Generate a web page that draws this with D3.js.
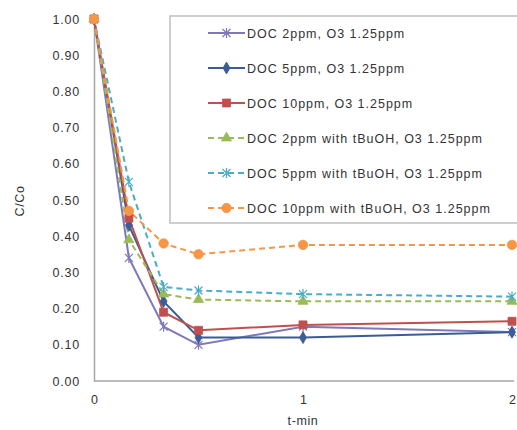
<!DOCTYPE html>
<html><head><meta charset="utf-8">
<script src="https://cdn.jsdelivr.net/npm/d3@7"></script>
<style>
body{margin:0;background:#fff;}
text{font-family:"Liberation Sans",Arial,sans-serif;fill:#333;}
</style></head>
<body><svg id="c" width="517" height="430"></svg>
<script>
const times = [0, 0.167, 0.333, 0.5, 1, 2];
const seriesNames = [
  "DOC 2ppm, O3 1.25ppm",
  "DOC 5ppm, O3 1.25ppm",
  "DOC 10ppm, O3 1.25ppm",
  "DOC 2ppm with tBuOH, O3 1.25ppm",
  "DOC 5ppm with tBuOH, O3 1.25ppm",
  "DOC 10ppm with tBuOH, O3 1.25ppm"
];
const doc2 = [1.00, 0.34, 0.15, 0.10, 0.15, 0.135];
const doc5 = [1.00, 0.43, 0.22, 0.12, 0.12, 0.135];
const doc10 = [1.00, 0.45, 0.19, 0.14, 0.155, 0.165];
const doc2t = [1.00, 0.39, 0.24, 0.225, 0.22, 0.22];
const doc5t = [1.00, 0.55, 0.26, 0.25, 0.24, 0.233];
const doc10t = [1.00, 0.47, 0.38, 0.35, 0.376, 0.376];
const yTicks = [0, 0.1, 0.2, 0.3, 0.4, 0.5, 0.6, 0.7, 0.8, 0.9, 1.0];
const xTicks = [0, 1, 2];

const colors = ["#7f78b9", "#3b5c96", "#c0504d", "#9bbb59", "#4bacc6", "#f79646"];
const markers = ["star", "diamond", "square", "triangle", "star", "circle"];
const dashed = [false, false, false, true, true, true];
const values = [doc2, doc5, doc10, doc2t, doc5t, doc10t];

const svg = d3.select("#c");
const x = d3.scaleLinear().domain([0, 2]).range([94, 512]);
const y = d3.scaleLinear().domain([0, 1]).range([381, 19]);

// axes
const ya = svg.append("g").attr("transform", "translate(94,0)")
  .call(d3.axisLeft(y).tickValues(yTicks).tickFormat(d3.format(".2f")).tickSize(0).tickPadding(14));
ya.select(".domain").attr("stroke", "#a6a6a6").attr("stroke-width", 1.5);
ya.selectAll("text").style("font-size", "12.5px").style("letter-spacing", "0.8px")
  .style("font-family", "'Liberation Sans',Arial,sans-serif").attr("fill", "#333");

const xa = svg.append("g").attr("transform", "translate(0,381)")
  .call(d3.axisBottom(x).tickValues(xTicks).tickFormat(d3.format("d")).tickSize(0).tickPadding(14));
xa.select(".domain").attr("stroke", "#a6a6a6").attr("stroke-width", 1.5).attr("d", "M94,0H514");
xa.selectAll("text").style("font-size", "12.5px")
  .style("font-family", "'Liberation Sans',Arial,sans-serif").attr("fill", "#333");

svg.append("text").attr("x", 303).attr("y", 425).attr("text-anchor", "middle")
  .style("font-size", "12.5px").style("letter-spacing", "0.6px").text("t-min");
svg.append("text").attr("transform", "translate(24,201) rotate(-90)").attr("text-anchor", "middle")
  .style("font-size", "12.5px").style("letter-spacing", "0.6px").text("C/Co");

function drawMarker(g, type, cx, cy, color) {
  if (type === "star") {
    const r = 4;
    g.append("path").attr("d", `M${cx-r},${cy-r}L${cx+r},${cy+r}M${cx-r},${cy+r}L${cx+r},${cy-r}M${cx},${cy-r-1}L${cx},${cy+r+1}`)
      .attr("stroke", color).attr("stroke-width", 1.2).attr("fill", "none");
  } else {
    const sym = {diamond: d3.symbolDiamond, square: d3.symbolSquare, triangle: d3.symbolTriangle, circle: d3.symbolCircle}[type];
    const size = {diamond: 42, square: 64, triangle: 45, circle: 70}[type];
    g.append("path").attr("d", d3.symbol().type(sym).size(size)())
      .attr("transform", `translate(${cx},${cy})`).attr("fill", color).attr("stroke", color).attr("stroke-width", 0.8);
  }
}

const line = d3.line().x((d, i) => x(times[i])).y(d => y(d));
const plot = svg.append("g");
values.forEach((vals, k) => {
  plot.append("path").datum(vals).attr("d", line).attr("fill", "none")
    .attr("stroke", colors[k]).attr("stroke-width", 2)
    .attr("stroke-dasharray", dashed[k] ? "6,4" : null);
});
values.forEach((vals, k) => {
  const g = plot.append("g");
  vals.forEach((v, i) => drawMarker(g, markers[k], x(times[i]), y(v), colors[k]));
});

// legend
const lg = svg.append("g");
lg.append("rect").attr("x", 170).attr("y", 16).attr("width", 348).attr("height", 207)
  .attr("fill", "#fff").attr("stroke", "#bfbfbf").attr("stroke-width", 1.5);
seriesNames.forEach((name, k) => {
  const cy = 33 + k * 35;
  lg.append("line").attr("x1", 208).attr("x2", 245).attr("y1", cy).attr("y2", cy)
    .attr("stroke", colors[k]).attr("stroke-width", 2).attr("stroke-dasharray", dashed[k] ? "6,4" : null);
  drawMarker(lg, markers[k], 226.5, cy, colors[k]);
  lg.append("text").attr("x", 247).attr("y", cy + 4.5).style("font-size", "12.5px")
    .style("letter-spacing", "1px").attr("fill", "#333").text(name);
});
</script></body></html>
